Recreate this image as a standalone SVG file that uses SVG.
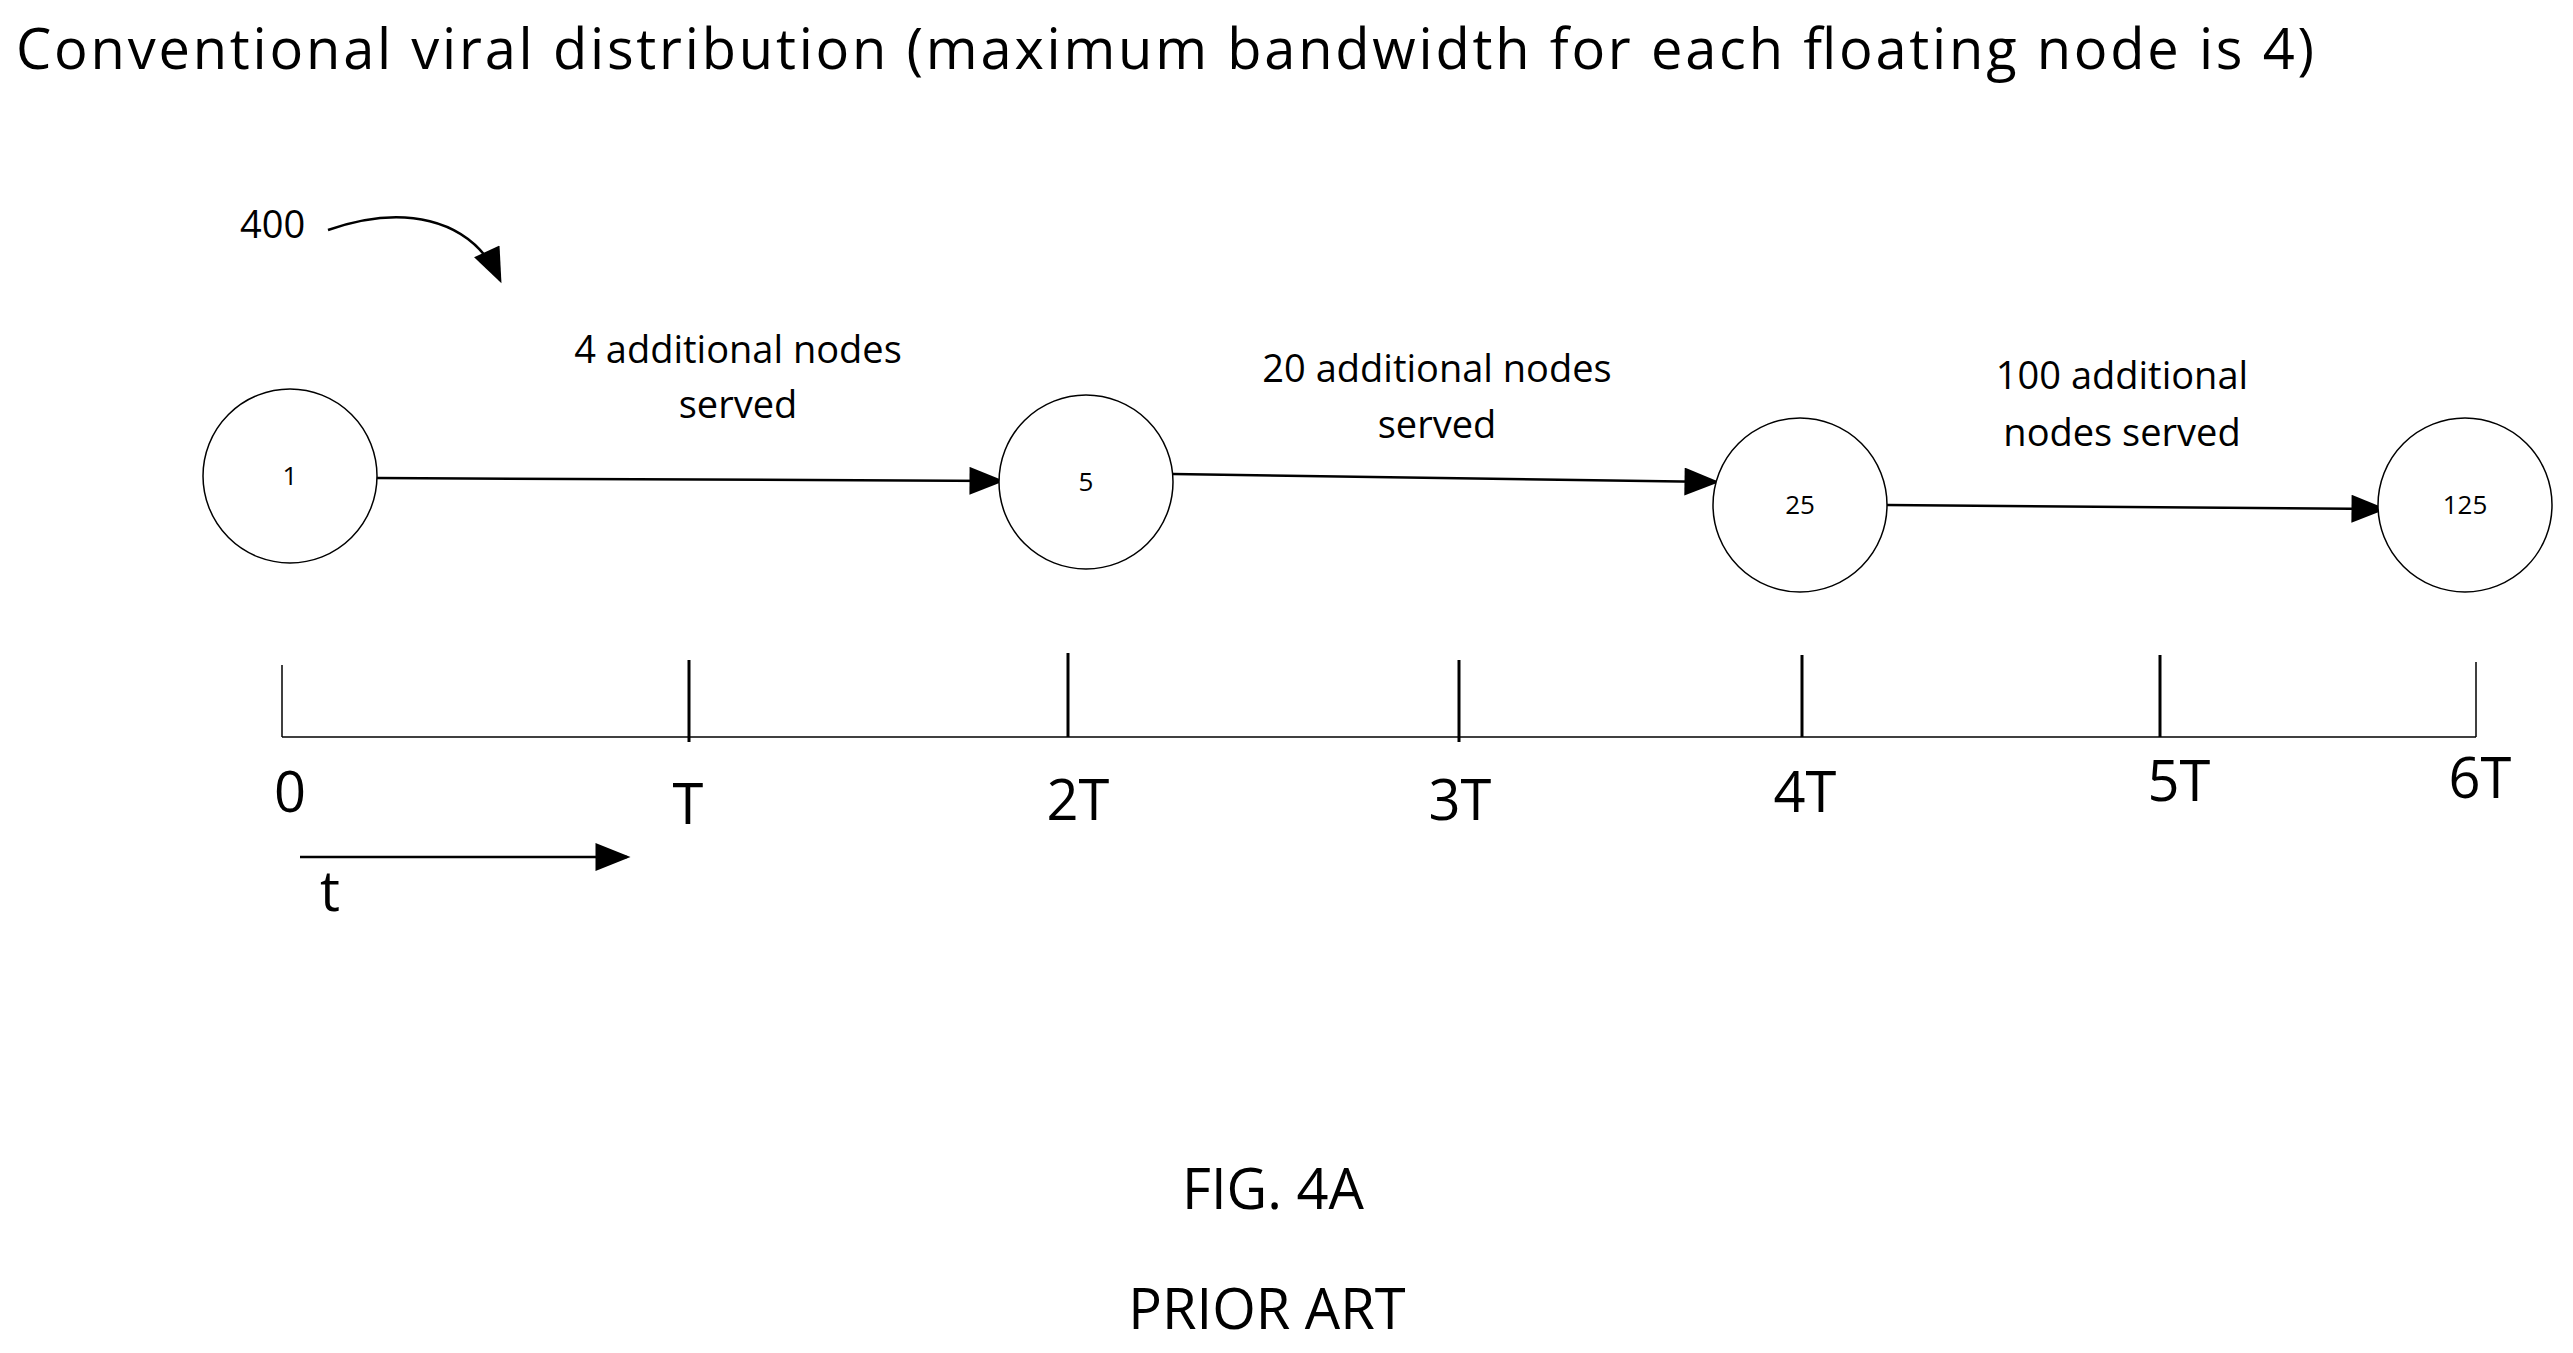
<svg xmlns="http://www.w3.org/2000/svg" width="2573" height="1353" viewBox="0 0 2573 1353">
<style>
text{font-family:"Open Sans","Liberation Sans",sans-serif;fill:#000}
.n{fill:#fff;stroke:#000;stroke-width:1.5}
.l{stroke:#000;stroke-width:2.5;fill:none}
.big{font-size:56px}
.mid{font-size:38px;text-anchor:middle}
.sm{font-size:26px;text-anchor:middle}
</style>
<defs><marker id="a" markerWidth="10" markerHeight="8" refX="9" refY="4" orient="auto" markerUnits="userSpaceOnUse" viewBox="0 0 10 8"><path d="M0,0L10,4L0,8z"/></marker>
<marker id="b" viewBox="0 0 10 8" refX="9" refY="4" markerWidth="38" markerHeight="28" orient="auto" markerUnits="userSpaceOnUse"><path d="M0,0L10,4L0,8z"/></marker></defs>
<rect width="2573" height="1353" fill="#fff"/>
<text x="16" y="69" class="big" textLength="2298">Conventional viral distribution (maximum bandwidth for each floating node is 4)</text>
<text x="240" y="238" style="font-size:38px">400</text>
<g id="conn">
<path class="l" d="M328,230 C400,205 470,215 500,280" marker-end="url(#b)"/>
<path class="l" d="M377,478 L1001,481" marker-end="url(#b)"/>
<path class="l" d="M1173,474 L1716,482" marker-end="url(#b)"/>
<path class="l" d="M1887,505 L2383,509" marker-end="url(#b)"/>
<path class="l" d="M300,857 L627,857" marker-end="url(#b)"/>
</g>
<g id="n1"><circle class="n" cx="290" cy="476" r="87"/><text x="290" y="485" class="sm">1</text></g>
<g id="n5"><circle class="n" cx="1086" cy="482" r="87"/><text x="1086" y="491" class="sm">5</text></g>
<g id="n25"><circle class="n" cx="1800" cy="505" r="87"/><text x="1800" y="514" class="sm">25</text></g>
<g id="n125"><circle class="n" cx="2465" cy="505" r="87"/><text x="2465" y="514" class="sm">125</text></g>
<text x="738" y="363" class="mid">4 additional nodes</text><text x="738" y="418" class="mid">served</text>
<text x="1437" y="382" class="mid">20 additional nodes</text><text x="1437" y="438" class="mid">served</text>
<text x="2122" y="389" class="mid">100 additional</text><text x="2122" y="446" class="mid">nodes served</text>
<g id="axis" stroke="#000" stroke-width="2">
<line x1="282" y1="737" x2="2476" y2="737" stroke-width="1.5"/>
<line x1="282" y1="665" x2="282" y2="737" stroke-width="1.5"/>
<line x1="689" y1="660" x2="689" y2="742" stroke-width="3"/>
<line x1="1068" y1="653" x2="1068" y2="737" stroke-width="3"/>
<line x1="1459" y1="660" x2="1459" y2="742" stroke-width="3"/>
<line x1="1802" y1="655" x2="1802" y2="737" stroke-width="3"/>
<line x1="2160" y1="655" x2="2160" y2="737" stroke-width="3"/>
<line x1="2476" y1="662" x2="2476" y2="737" stroke-width="1.5"/>
</g>
<g class="big" style="text-anchor:middle">
<text x="290" y="812" text-anchor="middle" class="big">0</text>
<text x="688" y="824" text-anchor="middle" class="big">T</text>
<text x="1078" y="820" text-anchor="middle" class="big">2T</text>
<text x="1460" y="820" text-anchor="middle" class="big">3T</text>
<text x="1805" y="812" text-anchor="middle" class="big">4T</text>
<text x="2179" y="801" text-anchor="middle" class="big">5T</text>
<text x="2480" y="798" text-anchor="middle" class="big">6T</text>
<text x="330" y="911" text-anchor="middle" class="big">t</text>
<text x="1273" y="1209" text-anchor="middle" class="big">FIG. 4A</text>
<text x="1267" y="1329" text-anchor="middle" class="big">PRIOR ART</text>
</g>
</svg>
